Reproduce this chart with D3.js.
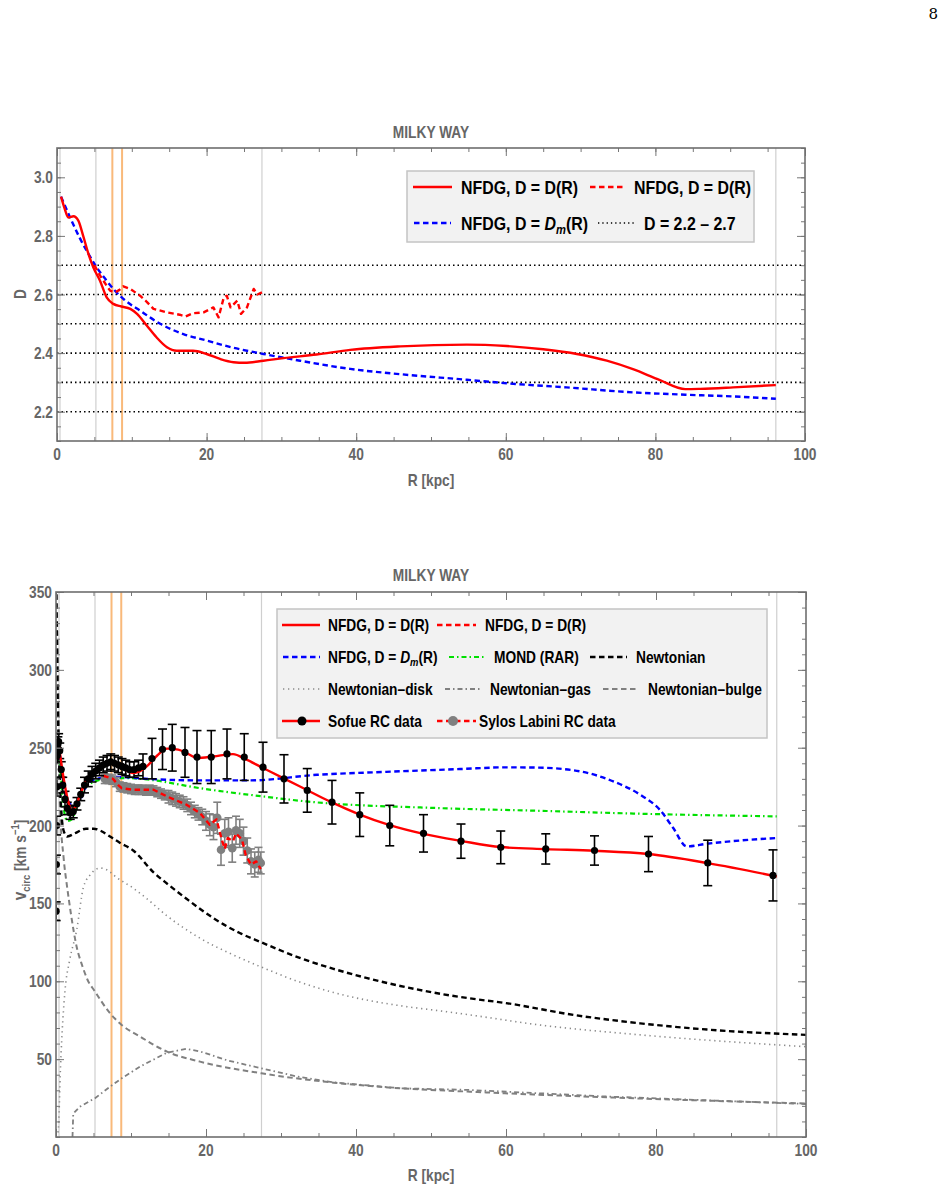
<!DOCTYPE html>
<html><head><meta charset="utf-8">
<script src="https://cdn.jsdelivr.net/npm/d3@7"></script>
<style>
body{margin:0;background:#fff}
svg{display:block}
text{font-family:"Liberation Sans",Arial,Helvetica,sans-serif;font-weight:bold}
text.pg{font-family:"DejaVu Serif","Liberation Serif",serif;font-weight:normal}
</style>
</head><body>
<svg id="c" width="945" height="1193"></svg>
<script>
// ---------- data ----------
const xTicks = [0, 20, 40, 60, 80, 100];
const dTicks = [2.2, 2.4, 2.6, 2.8, 3.0];
const vTicks = [50, 100, 150, 200, 250, 300, 350];
const dLevels = [2.2, 2.3, 2.4, 2.5, 2.6, 2.7];
const grayLines = [0.4, 5.2, 27.4, 96.1];
const orangeLines = [7.4, 8.7];
const title = "MILKY WAY";

// Top panel: fractional dimension D(R)
const topSofueR = [0.54,1.0,1.52,2.2,2.85,3.5,4.2,4.85,5.75,6.64,7.53,8.6,9.8,10.7,12.0,13.3,14.7,16.0,18.2,20.0,21.8,23.6,25.1,27.6,30.3,34.7,39.2,45.9,54.8,60.1,65.0,69.5,73.5,77.0,80.6,84.0,86.0,90.4,96.1];
const topSofueD = [2.934,2.895,2.863,2.867,2.852,2.80,2.739,2.693,2.647,2.59,2.568,2.559,2.551,2.534,2.494,2.454,2.42,2.408,2.408,2.397,2.38,2.369,2.367,2.374,2.383,2.395,2.411,2.423,2.429,2.424,2.413,2.397,2.374,2.345,2.308,2.277,2.278,2.283,2.291];
const topSylosR = [5.0,5.75,6.64,7.1,7.75,8.3,8.87,9.8,11.1,12.0,12.9,14.7,16.4,17.2,18.2,19.6,20.9,21.6,22.3,22.7,23.2,24.1,24.6,25.4,26.3,26.8,27.4];
const topSylosD = [2.70,2.665,2.63,2.613,2.607,2.615,2.628,2.619,2.596,2.575,2.551,2.539,2.531,2.525,2.536,2.539,2.556,2.522,2.59,2.596,2.556,2.579,2.534,2.556,2.619,2.60,2.607];
const topDmR = [0.54,1.75,3.0,4.2,5.3,6.64,7.75,8.87,11.1,13.8,16.9,20.0,23.6,27.6,32.5,39.2,45.9,54.8,60.1,68.1,77.0,84.0,90.4,96.1];
const topDmD = [2.934,2.863,2.795,2.739,2.693,2.647,2.613,2.585,2.545,2.50,2.465,2.443,2.418,2.397,2.374,2.346,2.328,2.309,2.297,2.283,2.266,2.258,2.252,2.244];

// Bottom panel: rotation curves (km/s)
const vSofueFitR = [0.2,0.3,0.5,0.8,1.2,1.6,2.1,2.6,3.2,4.1,5.4,6.76,8.1,9.2,10.3,11.2,12.1,13.5,14.8,16.3,17.6,18.8,21.0,23.6,25.4,27.6,30.3,33.4,36.5,40.5,44.5,49.0,54.0,59.3,65.3,71.8,79.0,86.9,96.1];
const vSofueFitV = [250,255,247.6,237,225.2,216,210.2,212,219.8,229.4,234.8,240.6,239.1,236,233.7,235,238,245,249.4,248.8,246,243.4,244.4,245.9,242.3,237,230.5,223,215.5,207.1,200.3,194.7,190.2,186.2,184.9,183.8,181.7,175.9,167.3];
const vSylosFitR = [6.3,7.6,8.3,8.76,10.3,13.0,14.8,17.4,19.2,20.5,21.4,22.1,22.5,22.9,23.6,24.0,24.8,25.3,26.0,26.7,27.3];
const vSylosFitV = [232,230,226,224,223,223,218.7,213.4,208,200.5,204,191,185,192,190,195,191,181,175,177,172];
const vDmR = [0.3,0.5,0.8,1.2,2.1,3.2,4.3,5.87,8.5,12.5,19.2,25.9,34.8,44,53.9,60.0,64.4,69.9,74.3,77.9,80.5,82.3,84.1,86.8,91.2,96.1];
const vDmV = [250,246.6,235,221,213.4,216.6,227.3,230.5,231.2,229.9,229,229,232.6,234.5,236.3,237.4,237.2,234.8,228.4,219.8,210.2,198.4,186.6,188.3,190.4,192];
const vMondR = [0.3,0.6,1.0,1.5,2.1,3.0,3.6,5.0,6.8,9.4,12.5,19.2,27.6,33.4,51.2,64.4,77.9,96.1];
const vMondV = [250,235,212,203,204,216,222,228,230,230.5,229.4,224,218.7,215.5,211.2,209.5,207.6,205.9];
const vNewtR = [0.02,0.1,0.2,0.4,0.7,1.0,1.5,2.5,4.0,5.0,6.0,7.2,8.5,10.3,13.0,15.0,17.4,21.0,24.5,27.4,32.5,37.0,41.5,45.9,51.2,55.2,60.0,69.0,77.9,86.8,100];
const vNewtV = [360,330,290,245,210,197,193,195,198,198,196.5,193,189,184,170,162,153,140.5,131,125,115,108,102,97,92,89,86,78.4,73,69,65.6];
const vDiskR = [0,0.3,0.6,1.2,1.8,2.76,3.64,4.5,5.9,7.0,8.0,10.3,12.0,14.8,19.2,23.6,27.4,32.5,37,45.9,51.2,55.2,64.4,77.9,100];
const vDiskV = [0,4,45,94,113,133,160,168,172.7,171,167,159.8,153.5,142,127.7,117,109.1,99.5,92.8,84.3,81,78.4,72,65.6,58];
const vGasR = [2.2,2.3,3.2,5.2,7.2,8.76,11.2,14.8,17.4,19.3,23,27.4,32,37,45.9,55.2,73.4,100];
const vGasV = [0,15,19.5,24.9,32.3,37.7,45.2,54.2,56.6,54.8,49,44.1,39,35.1,31.3,30.2,26,21.2];
const vBulgeR = [0.02,0.1,0.3,0.5,1.0,1.5,2.0,2.76,3.5,4.2,5.2,7.2,8.76,11.2,14.8,19.2,27.4,37,45.9,55.2,73.4,100];
const vBulgeV = [360,340,290,215,180,160,143,122,110,101,93.4,79.5,72,64.5,54.8,48.4,40.9,34.9,31.3,29.1,25.5,21.5];

// Sofue RC data
const sofueR = [0.02,0.05,0.08,0.12,0.18,0.25,0.35,0.5,0.7,0.9,1.2,1.5,1.9,2.3,2.8,3.3,3.8,4.3,4.8,5.3,5.8,6.3,6.8,7.3,7.8,8.3,8.8,9.3,9.8,10.4,11.0,11.6,12.8,14.2,15.5,17.2,18.8,20.7,22.8,25.1,27.6,30.4,33.5,36.8,40.5,44.5,49.0,54.0,59.3,65.3,71.8,79.0,86.9,95.6];
const sofueV = [145,175,200,225,245,252,254,248,236,226,217,211,208,209,214,220,226,230,233,235,237,239,240,241,240,239,238,237,236,236,237,238,243,249,250,247,244,244,246,244,237.5,230,222.6,215,207,200,195,190,186,185,184,181.7,176,168];
const sofueErr = [6,6,6,6,5,5,5,5,5,5,5,4,4,4,4,4,5,5,5,5,5,5,5,5,5,5,5,5,5,5,5,8,13,13,15,16,17,17,16,15,16,15.5,14,14,14,13,12,11,10.5,9.7,9.4,11.3,14.6,16.4];

// Sylos Labini RC data
const sylosR = [6.5,7.0,7.5,8.0,8.5,9.0,9.5,10.0,10.5,11.0,11.5,12.0,12.5,13.0,13.5,14.0,14.5,15.0,15.5,16.0,16.5,17.0,17.5,18.0,18.5,19.0,19.5,20.0,20.5,21.0,21.5,22.0,22.5,23.0,23.5,24.0,24.5,25.0,25.5,26.0,26.5,27.0,27.3];
const sylosV = [230,230,229.5,228,225,224.5,224,223.5,223,223,223,222.5,223,222.5,221.5,220.5,219.5,218.5,217.5,216.5,215.5,214.5,213,211,209,207.5,205.5,203,200.5,199,205,184.5,195,196,185.5,197,195,190,184,177,175,178,176];
const sylosErr = [3,3,3,3,3,3,3,3,3,3,3,3,3,3,3,3,3,4,4,4,4,4,4,4,4,4,5,6,7,8,10,10,9,9,9,9,9,9,8,8,8,8,7];

// ---------- helpers ----------
const zip = (a, b) => a.map((v, i) => [v, b[i]]);
const svg = d3.select('#c');
const K = 0.86; // horizontal condensing of Mathematica-like font
const GRAY_TXT = '#666';

function ctext(g, x, y, size, anchor, fill, rot) {
  return g.append('text')
    .attr('transform', `translate(${x},${y})${rot ? ` rotate(${rot})` : ''} scale(${K},1)`)
    .attr('font-size', size).attr('text-anchor', anchor).attr('fill', fill);
}

function frameAxes(g, x, y, opts) {
  const [x0, x1] = x.range(), [y0, y1] = y.range(); // y0 bottom
  const minorX = d3.range(0, 100.001, 5);
  const mk = (axis, tr) => {
    const a = g.append('g').attr('transform', tr).call(axis);
    a.select('.domain').remove();
    a.selectAll('line').attr('stroke', '#777').attr('stroke-width', 1);
    return a;
  };
  mk(d3.axisBottom(x).tickValues(minorX).tickSize(-4).tickFormat(''), `translate(0,${y0})`);
  mk(d3.axisTop(x).tickValues(minorX).tickSize(-4).tickFormat(''), `translate(0,${y1})`);
  mk(d3.axisBottom(x).tickValues(xTicks).tickSize(-8).tickFormat(''), `translate(0,${y0})`);
  mk(d3.axisTop(x).tickValues(xTicks).tickSize(-8).tickFormat(''), `translate(0,${y1})`);
  mk(d3.axisLeft(y).tickValues(opts.minorY).tickSize(-4).tickFormat(''), `translate(${x0},0)`);
  mk(d3.axisRight(y).tickValues(opts.minorY).tickSize(-4).tickFormat(''), `translate(${x1},0)`);
  mk(d3.axisLeft(y).tickValues(opts.majorY).tickSize(-8).tickFormat(''), `translate(${x0},0)`);
  mk(d3.axisRight(y).tickValues(opts.majorY).tickSize(-8).tickFormat(''), `translate(${x1},0)`);
  xTicks.forEach(t => ctext(g, x(t), y0 + 19, 16, 'middle', GRAY_TXT).text(t));
  opts.majorY.forEach(t => ctext(g, x0 - 4, y(t) + 6, 16, 'end', GRAY_TXT).text(opts.fmt(t)));
  g.append('rect').attr('x', x0).attr('y', y1).attr('width', x1 - x0).attr('height', y0 - y1)
    .attr('fill', 'none').attr('stroke', '#6e6e6e').attr('stroke-width', 1.6);
}

function vlines(g, x, y) {
  const [y0, y1] = y.range();
  g.selectAll(null).data(grayLines).join('line')
    .attr('x1', d => x(d)).attr('x2', d => x(d)).attr('y1', y0).attr('y2', y1)
    .attr('stroke', '#cfcfcf').attr('stroke-width', 1.2);
  g.selectAll(null).data(orangeLines).join('line')
    .attr('x1', d => x(d)).attr('x2', d => x(d)).attr('y1', y0).attr('y2', y1)
    .attr('stroke', '#f9b97a').attr('stroke-width', 2);
}

function path(g, x, y, data, stroke, width, dash, curve) {
  const line = d3.line().x(d => x(d[0])).y(d => y(d[1])).curve(curve || d3.curveMonotoneX);
  return g.append('path').datum(data).attr('d', line).attr('fill', 'none')
    .attr('stroke', stroke).attr('stroke-width', width)
    .attr('stroke-dasharray', dash || null).attr('stroke-linejoin', 'round');
}

// ---------- page number ----------
svg.append('text').attr('class', 'pg').attr('x', 938).attr('y', 19).attr('text-anchor', 'end')
  .attr('font-size', 15).text('8');

// ---------- TOP PANEL ----------
{
  const x = d3.scaleLinear().domain([0, 100]).range([57, 805]);
  const y = d3.scaleLinear().domain([2.1, 3.1]).range([441, 148]);
  const g = svg.append('g');
  g.append('clipPath').attr('id', 'clipT').append('rect')
    .attr('x', 57).attr('y', 148).attr('width', 748).attr('height', 293);
  const p = g.append('g').attr('clip-path', 'url(#clipT)');
  vlines(p, x, y);
  p.selectAll(null).data(dLevels).join('line')
    .attr('x1', 57).attr('x2', 805).attr('y1', d => y(d)).attr('y2', d => y(d))
    .attr('stroke', '#000').attr('stroke-width', 1.6).attr('stroke-dasharray', '1.5,3');
  path(p, x, y, zip(topDmR, topDmD), '#0000ff', 2.4, '5.5,3.5');
  path(p, x, y, zip(topSylosR, topSylosD), '#ff0000', 2.4, '5.5,3.5', d3.curveLinear);
  path(p, x, y, zip(topSofueR, topSofueD), '#ff0000', 2.4);
  frameAxes(g, x, y, {
    majorY: dTicks, minorY: d3.range(2.1, 3.1001, 0.05).map(v => +v.toFixed(2)),
    fmt: d3.format('.1f')
  });
  ctext(g, 431, 138, 16, 'middle', GRAY_TXT).text(title);
  ctext(g, 431, 486, 16, 'middle', GRAY_TXT).text('R [kpc]');
  ctext(g, 26, 294, 16, 'middle', GRAY_TXT, -90).text('D');

  const L = g.append('g');
  L.append('rect').attr('x', 407).attr('y', 171).attr('width', 347).attr('height', 71)
    .attr('fill', '#f2f2f2').attr('stroke', '#c4c4c4').attr('stroke-width', 1.5);
  const seg = (x1, x2, yy, col, dash) => L.append('line').attr('x1', x1).attr('x2', x2)
    .attr('y1', yy).attr('y2', yy).attr('stroke', col).attr('stroke-width', 2.4)
    .attr('stroke-dasharray', dash || null);
  seg(413, 452, 187, '#ff0000');
  ctext(L, 461, 193.5, 18.5, 'start', '#000').text('NFDG, D = D(R)');
  seg(590, 623, 187, '#ff0000', '5.5,3.5');
  ctext(L, 634, 193.5, 18.5, 'start', '#000').text('NFDG, D = D(R)');
  seg(414, 451, 223, '#0000ff', '5.5,3.5');
  const t2 = ctext(L, 461, 229.5, 18.5, 'start', '#000');
  t2.append('tspan').text('NFDG, D = ');
  t2.append('tspan').attr('font-style', 'italic').text('D');
  t2.append('tspan').attr('font-style', 'italic').attr('font-size', 13).attr('dy', 4).text('m');
  t2.append('tspan').attr('dy', -4).text('(R)');
  L.append('line').attr('x1', 598).attr('x2', 634).attr('y1', 223).attr('y2', 223)
    .attr('stroke', '#000').attr('stroke-width', 1.3).attr('stroke-dasharray', '1.3,3');
  ctext(L, 644, 229.5, 18.5, 'start', '#000').text('D = 2.2 \u2013 2.7');
}

// ---------- BOTTOM PANEL ----------
{
  const x = d3.scaleLinear().domain([0, 100]).range([56, 806]);
  const y = d3.scaleLinear().domain([0, 350]).range([1137, 592]);
  const g = svg.append('g');
  g.append('clipPath').attr('id', 'clipB').append('rect')
    .attr('x', 56).attr('y', 592).attr('width', 750).attr('height', 545);
  const p = g.append('g').attr('clip-path', 'url(#clipB)');
  vlines(p, x, y);

  path(p, x, y, zip(vBulgeR, vBulgeV), '#808080', 2, '5.5,3.5');
  path(p, x, y, zip(vGasR, vGasV), '#808080', 1.8, '5,3,1.5,3', d3.curveLinear);
  path(p, x, y, zip(vDiskR, vDiskV), '#8a8a8a', 1.6, '1.3,3.7');
  path(p, x, y, zip(vNewtR, vNewtV), '#000', 2.4, '5.5,3.5');
  path(p, x, y, zip(vMondR, vMondV), '#00e000', 2.2, '5,3,1.5,3');
  path(p, x, y, zip(vDmR, vDmV), '#0000ff', 2.4, '5.5,3.5');

  const syl = sylosR.map((r, i) => ({ r, v: sylosV[i], e: sylosErr[i] }));
  const sg = p.append('g').attr('stroke', '#808080').attr('stroke-width', 1.6);
  syl.forEach(d => {
    sg.append('line').attr('x1', x(d.r)).attr('x2', x(d.r)).attr('y1', y(d.v - d.e)).attr('y2', y(d.v + d.e));
    [d.v - d.e, d.v + d.e].forEach(vv => sg.append('line')
      .attr('x1', x(d.r) - 4).attr('x2', x(d.r) + 4).attr('y1', y(vv)).attr('y2', y(vv)));
  });
  p.selectAll(null).data(syl).join('circle').attr('cx', d => x(d.r)).attr('cy', d => y(d.v))
    .attr('r', 4.3).attr('fill', '#808080');
  path(p, x, y, zip(vSylosFitR, vSylosFitV), '#ff0000', 2.4, '5.5,3.5', d3.curveLinear);

  const sof = sofueR.map((r, i) => ({ r, v: sofueV[i], e: sofueErr[i] }));
  const bg = p.append('g').attr('stroke', '#000').attr('stroke-width', 1.6);
  sof.forEach(d => {
    bg.append('line').attr('x1', x(d.r)).attr('x2', x(d.r)).attr('y1', y(d.v - d.e)).attr('y2', y(d.v + d.e));
    [d.v - d.e, d.v + d.e].forEach(vv => bg.append('line')
      .attr('x1', x(d.r) - 4.5).attr('x2', x(d.r) + 4.5).attr('y1', y(vv)).attr('y2', y(vv)));
  });
  path(p, x, y, zip(vSofueFitR, vSofueFitV), '#ff0000', 2.4);
  p.selectAll(null).data(sof).join('circle').attr('cx', d => x(d.r)).attr('cy', d => y(d.v))
    .attr('r', 3.6).attr('fill', '#000');

  frameAxes(g, x, y, {
    majorY: vTicks, minorY: d3.range(0, 350.001, 10), fmt: d => d
  });
  ctext(g, 431, 581, 16, 'middle', GRAY_TXT).text(title);
  ctext(g, 431, 1181, 16, 'middle', GRAY_TXT).text('R [kpc]');
  const yl = ctext(g, 26, 860, 16, 'middle', GRAY_TXT, -90);
  yl.append('tspan').attr('font-size', 18).text('v');
  yl.append('tspan').attr('font-size', 11).attr('dy', 4).text('circ');
  yl.append('tspan').attr('dy', -4).text(' [km s');
  yl.append('tspan').attr('font-size', 11).attr('dy', -7).text('\u22121');
  yl.append('tspan').attr('dy', 7).text(']');

  const L = g.append('g');
  L.append('rect').attr('x', 277).attr('y', 609).attr('width', 490).attr('height', 129)
    .attr('fill', '#f2f2f2').attr('stroke', '#c4c4c4').attr('stroke-width', 1.5);
  const seg = (x1, x2, yy, col, w, dash) => L.append('line').attr('x1', x1).attr('x2', x2)
    .attr('y1', yy).attr('y2', yy).attr('stroke', col).attr('stroke-width', w)
    .attr('stroke-dasharray', dash || null);
  const tx = (xx, yy, s) => ctext(L, xx, yy + 5.5, 16, 'start', '#000').text(s);
  const r1 = 625, r2 = 657, r3 = 689, r4 = 721;
  seg(282, 320, r1, '#ff0000', 2.4); tx(328, r1, 'NFDG, D = D(R)');
  seg(437, 476, r1, '#ff0000', 2.4, '5.5,3.5'); tx(485, r1, 'NFDG, D = D(R)');
  seg(283, 320, r2, '#0000ff', 2.4, '5.5,3.5');
  const t2 = ctext(L, 328, r2 + 5.5, 16, 'start', '#000');
  t2.append('tspan').text('NFDG, D = ');
  t2.append('tspan').attr('font-style', 'italic').text('D');
  t2.append('tspan').attr('font-style', 'italic').attr('font-size', 11).attr('dy', 3.5).text('m');
  t2.append('tspan').attr('dy', -3.5).text('(R)');
  seg(449, 485, r2, '#00e000', 2.2, '5,3,1.5,3'); tx(494, r2, 'MOND (RAR)');
  seg(590, 627, r2, '#000', 2.4, '5.5,3.5'); tx(636, r2, 'Newtonian');
  seg(283, 320, r3, '#8a8a8a', 1.6, '1.3,3.7'); tx(328, r3, 'Newtonian\u2013disk');
  seg(445, 480, r3, '#808080', 1.8, '5,3,1.5,3'); tx(490, r3, 'Newtonian\u2013gas');
  seg(603, 639, r3, '#808080', 2, '5.5,3.5'); tx(648, r3, 'Newtonian\u2013bulge');
  seg(282, 320, r4, '#ff0000', 2.4);
  L.append('circle').attr('cx', 302).attr('cy', r4).attr('r', 4.5).attr('fill', '#000');
  tx(328, r4, 'Sofue RC data');
  seg(437, 476, r4, '#ff0000', 2.4, '5.5,3.5');
  L.append('circle').attr('cx', 453).attr('cy', r4).attr('r', 5).attr('fill', '#808080');
  tx(479, r4, 'Sylos Labini RC data');
}
</script>
</body></html>
